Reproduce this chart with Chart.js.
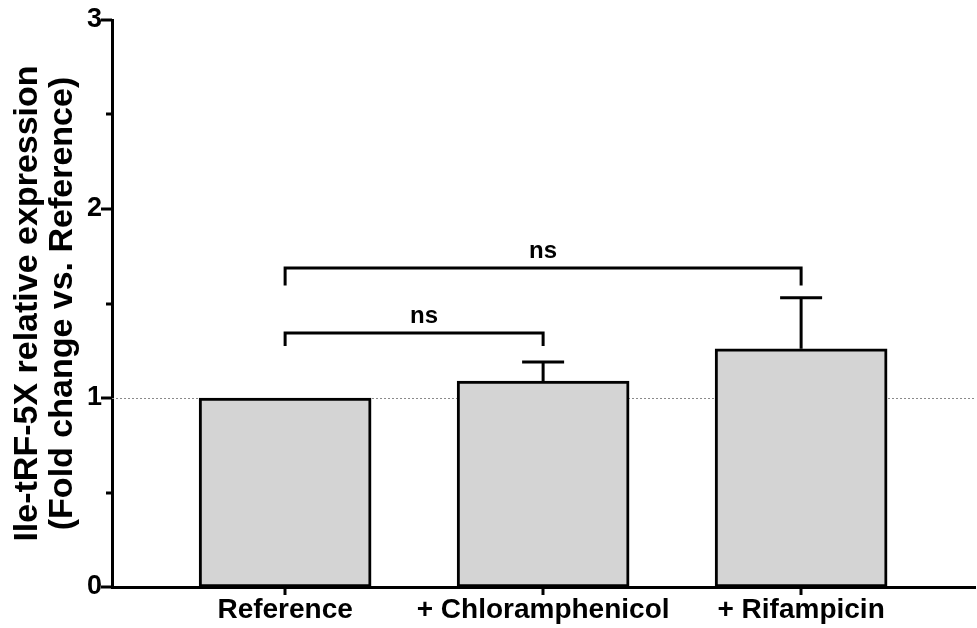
<!DOCTYPE html>
<html><head><meta charset="utf-8">
<script src="https://cdn.jsdelivr.net/npm/chart.js@4.4.1/dist/chart.umd.min.js"></script>
<style>html,body{margin:0;padding:0;background:#fff}</style>
</head><body>
<canvas id="c" width="977" height="628"></canvas>
<script>
const categories = ['Reference', '+ Chloramphenicol', '+ Rifampicin'];
const means = [1.00, 1.09, 1.26];
const errUpper = [0, 0.10, 0.27];
const yTickValues = [0, 1, 2, 3];
const yMinorTickValues = [0.5, 1.5, 2.5];
const compFrom = [0, 0];
const compTo = [1, 2];
const compLabel = ['ns', 'ns'];
const compTop = [1.345, 1.688];
const compLeg = [1.275, 1.595];
const referenceLine = 1;

const FONT = "'Liberation Sans', Arial, sans-serif";

const overlay = {
  id: 'overlay',
  beforeDatasetsDraw(chart) {
    const {ctx, chartArea, scales: {y}} = chart;
    const py = y.getPixelForValue(referenceLine);
    ctx.save();
    ctx.strokeStyle = '#8a8a8a';
    ctx.lineWidth = 1;
    ctx.setLineDash([2, 2]);
    ctx.beginPath();
    ctx.moveTo(chartArea.left, Math.round(py) + 0.5);
    ctx.lineTo(chartArea.right, Math.round(py) + 0.5);
    ctx.stroke();
    ctx.restore();
  },
  afterDatasetsDraw(chart) {
    const {ctx, chartArea, scales: {x, y}} = chart;
    ctx.save();
    ctx.strokeStyle = '#000';
    ctx.lineWidth = 3;
    ctx.lineCap = 'butt';
    means.forEach((m, i) => {
      if (!errUpper[i]) return;
      const cx = x.getPixelForValue(i);
      const yb = y.getPixelForValue(m);
      const yt = y.getPixelForValue(m + errUpper[i]);
      ctx.beginPath();
      ctx.moveTo(cx, yb);
      ctx.lineTo(cx, yt);
      ctx.moveTo(cx - 21, yt);
      ctx.lineTo(cx + 21, yt);
      ctx.stroke();
    });
    yTickValues.forEach(v => {
      const p = Math.round(y.getPixelForValue(v));
      ctx.beginPath();
      ctx.moveTo(chartArea.left - 11, p);
      ctx.lineTo(chartArea.left, p);
      ctx.stroke();
    });
    yMinorTickValues.forEach(v => {
      const p = Math.round(y.getPixelForValue(v));
      ctx.beginPath();
      ctx.moveTo(chartArea.left - 6, p);
      ctx.lineTo(chartArea.left, p);
      ctx.stroke();
    });
    categories.forEach((c, i) => {
      const p = Math.round(x.getPixelForValue(i));
      ctx.beginPath();
      ctx.moveTo(p, chartArea.bottom);
      ctx.lineTo(p, chartArea.bottom + 8);
      ctx.stroke();
    });
    ctx.lineJoin = 'miter';
    compFrom.forEach((f, k) => {
      const xl = x.getPixelForValue(f);
      const xr = x.getPixelForValue(compTo[k]);
      const yt = Math.round(y.getPixelForValue(compTop[k]));
      const yl = y.getPixelForValue(compLeg[k]);
      ctx.beginPath();
      ctx.moveTo(xl, yl);
      ctx.lineTo(xl, yt);
      ctx.lineTo(xr, yt);
      ctx.lineTo(xr, yl);
      ctx.stroke();
      ctx.fillStyle = '#000';
      ctx.font = 'bold 24px ' + FONT;
      ctx.textAlign = 'center';
      ctx.textBaseline = 'alphabetic';
      ctx.fillText(compLabel[k], (xl + xr) / 2 + (k === 0 ? 10 : 0), yt - 10);
    });
    ctx.restore();
  }
};

new Chart(document.getElementById('c'), {
  type: 'bar',
  data: {
    datasets: [{
      data: means.map((v, i) => ({x: i, y: v})),
      backgroundColor: '#d4d4d4',
      borderColor: '#000',
      borderWidth: 3,
      borderSkipped: false,
      barThickness: 172
    }]
  },
  options: {
    responsive: false,
    animation: false,
    devicePixelRatio: 1,
    layout: {padding: {top: 20, right: 2, left: 0, bottom: 0}},
    plugins: {legend: {display: false}, tooltip: {enabled: false}},
    scales: {
      x: {
        type: 'linear',
        offset: false,
        min: -0.671,
        max: 2.674,
        afterBuildTicks: s => { s.ticks = categories.map((c, i) => ({value: i})); },
        afterFit: s => { s.height = 41; s.paddingLeft = 0; s.paddingRight = 0; },
        grid: {display: false, drawTicks: false, offset: false},
        border: {display: true, color: '#000', width: 3},
        ticks: {
          autoSkip: false,
          maxRotation: 0,
          padding: 6,
          color: '#000',
          font: {family: FONT, size: 28, weight: 'bold'},
          callback: v => categories[v]
        }
      },
      y: {
        min: 0,
        max: 3,
        afterBuildTicks: s => { s.ticks = yTickValues.map(v => ({value: v})); },
        afterFit: s => { s.width = 112; s.paddingTop = 0; s.paddingBottom = 0; },
        grid: {display: false, drawTicks: false},
        border: {display: true, color: '#000', width: 3},
        ticks: {
          padding: 10,
          color: '#000',
          font: {family: FONT, size: 27, weight: 'bold'},
          callback: v => String(v)
        },
        title: {
          display: true,
          text: ['Ile-tRF-5X relative expression', '(Fold change vs. Reference)'],
          color: '#000',
          font: {family: FONT, size: 34, weight: 'bold', lineHeight: 1.03},
          padding: {top: 10, bottom: 0}
        }
      }
    }
  },
  plugins: [overlay]
});
</script>
</body></html>
